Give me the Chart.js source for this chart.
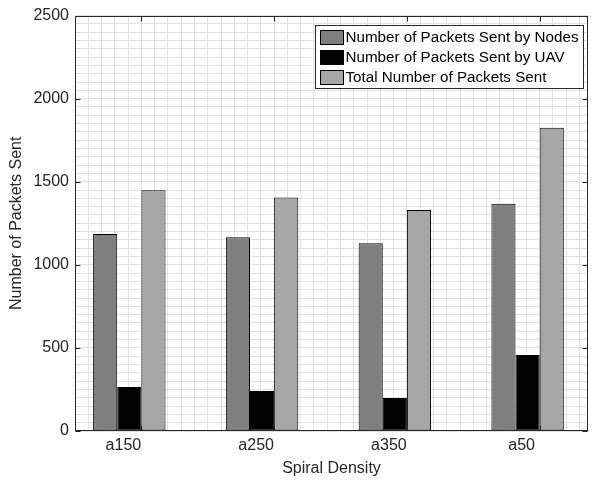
<!DOCTYPE html>
<html>
<head>
<meta charset="utf-8">
<script src="https://cdn.jsdelivr.net/npm/chart.js@4.4.1/dist/chart.umd.min.js"></script>
<style>
  html, body { margin: 0; padding: 0; background: #fff; }
  canvas { display: block; }
</style>
</head>
<body>
<canvas id="chart" width="603" height="480"></canvas>
<script>
// values
const categories = ['a150', 'a250', 'a350', 'a50'];
const nodesSent = [1186, 1166, 1130, 1367];
const uavSent = [265, 241, 199, 458];
const totalSent = [1449, 1405, 1330, 1825];
const fourthSeries = [3, 3, 3, 3]; // near-zero bars sitting on the baseline
const yTicks = [0, 500, 1000, 1500, 2000, 2500];
const seriesLabels = [
  'Number of Packets Sent by Nodes',
  'Number of Packets Sent by UAV',
  'Total Number of Packets Sent'
];

// x limits: half a slot on the left, flush with the last bar on the right
const X_MIN = -0.5, X_MAX = 3.364;

const FONT = '"Liberation Sans", Arial, Helvetica, sans-serif';
const AXIS_COLOR = '#262626';
const FS = 16;

const toPoints = arr => arr.map((v, i) => ({ x: i, y: v }));

// axes box + inward tick marks, matlab "box on"
const framePlugin = {
  id: 'frame',
  afterDraw(chart) {
    const { ctx, chartArea: a, scales } = chart;
    const l = Math.round(a.left) + 0.5, r = Math.round(a.right) - 0.5;
    const t = Math.round(a.top) + 0.5, b = Math.round(a.bottom) - 0.5;
    ctx.save();
    ctx.strokeStyle = AXIS_COLOR;
    ctx.lineWidth = 1;
    ctx.strokeRect(l, t, r - l, b - t);
    ctx.beginPath();
    scales.y.ticks.forEach(tk => {
      const py = Math.round(scales.y.getPixelForValue(tk.value)) + 0.5;
      ctx.moveTo(l, py); ctx.lineTo(l + 5, py);
      ctx.moveTo(r, py); ctx.lineTo(r - 5, py);
    });
    categories.forEach((c, i) => {
      const px = Math.round(scales.x.getPixelForValue(i)) + 0.5;
      ctx.moveTo(px, b); ctx.lineTo(px, b - 5);
      ctx.moveTo(px, t); ctx.lineTo(px, t + 5);
    });
    ctx.stroke();
    ctx.restore();
  }
};

// legend box inside the top-right corner of the axes
const insideLegend = {
  id: 'insideLegend',
  afterDraw(chart) {
    const { ctx, chartArea: a } = chart;
    const w = 268, h = 63, rowH = 20.4;
    const x0 = Math.round(a.right - 5 - w) + 0.5;
    const y0 = Math.round(a.top + 9) + 0.5;
    ctx.save();
    ctx.fillStyle = '#fff';
    ctx.fillRect(x0, y0, w, h);
    ctx.strokeStyle = AXIS_COLOR;
    ctx.lineWidth = 1;
    ctx.strokeRect(x0, y0, w, h);
    ctx.font = '15.2px ' + FONT;
    ctx.textBaseline = 'middle';
    seriesLabels.forEach((lab, i) => {
      const ds = chart.data.datasets[i];
      const cy = y0 + 11 + i * rowH;
      const sy = Math.round(cy - 7) + 0.5;
      ctx.fillStyle = ds.backgroundColor;
      ctx.fillRect(x0 + 5, sy, 23, 14);
      ctx.strokeStyle = '#000';
      ctx.strokeRect(x0 + 5, sy, 23, 14);
      ctx.fillStyle = '#000';
      ctx.fillText(lab, x0 + 30, cy + 1);
    });
    ctx.restore();
  }
};

const barStyle = { borderColor: '#000', borderWidth: 1, borderSkipped: false };

new Chart(document.getElementById('chart'), {
  type: 'bar',
  data: {
    datasets: [
      { label: seriesLabels[0], data: toPoints(nodesSent), backgroundColor: '#7f7f7f', ...barStyle },
      { label: seriesLabels[1], data: toPoints(uavSent), backgroundColor: '#000000', ...barStyle },
      { label: seriesLabels[2], data: toPoints(totalSent), backgroundColor: '#a6a6a6', ...barStyle },
      { label: '', data: toPoints(fourthSeries), backgroundColor: '#ffffff', ...barStyle }
    ]
  },
  options: {
    responsive: false,
    animation: false,
    devicePixelRatio: 1,
    layout: { padding: { top: 12, right: 15, left: 0, bottom: 0 } },
    datasets: { bar: { categoryPercentage: 0.7273, barPercentage: 1 } },
    plugins: { legend: { display: false }, tooltip: { enabled: false } },
    scales: {
      x: {
        type: 'linear', min: X_MIN, max: X_MAX, offset: false,
        afterFit: s => { s.height = 49; },
        afterBuildTicks: s => { s.ticks = categories.map((c, i) => ({ value: i })); },
        border: { display: false },
        grid: { color: '#e0e0e0', drawTicks: false, offset: false },
        ticks: {
          color: AXIS_COLOR, font: { family: FONT, size: FS }, padding: 5, labelOffset: -18,
          callback: v => categories[v]
        },
        title: {
          display: true, text: 'Spiral Density', color: AXIS_COLOR,
          font: { family: FONT, size: FS }, padding: { top: 0, bottom: 2 }
        }
      },
      xMinor: {
        type: 'linear', position: 'bottom', min: X_MIN, max: X_MAX, offset: false,
        afterFit: s => { s.height = 0; },
        afterBuildTicks: s => {
          const t = [];
          for (let k = 0; X_MIN + k * 0.1 < X_MAX; k++) t.push({ value: X_MIN + k * 0.1 });
          s.ticks = t;
        },
        border: { display: false },
        grid: { color: '#e2e2e2', borderDash: [1, 2], drawTicks: false, offset: false },
        ticks: { display: false }
      },
      y: {
        min: 0, max: 2500,
        afterFit: s => { s.width = 75; },
        afterBuildTicks: s => { s.ticks = yTicks.map(v => ({ value: v })); },
        border: { display: false },
        grid: { color: '#e0e0e0', drawTicks: false },
        ticks: {
          color: AXIS_COLOR, font: { family: FONT, size: FS }, padding: 6,
          callback: v => String(v)
        },
        title: {
          display: true, text: 'Number of Packets Sent', color: AXIS_COLOR,
          font: { family: FONT, size: FS }, padding: { top: 7, bottom: 0 }
        }
      },
      yMinor: {
        type: 'linear', position: 'left', min: 0, max: 2500,
        afterFit: s => { s.width = 0; },
        afterBuildTicks: s => {
          const t = [];
          for (let v = 0; v <= 2500; v += 50) t.push({ value: v });
          s.ticks = t;
        },
        border: { display: false },
        grid: { color: '#e2e2e2', borderDash: [1, 2], drawTicks: false },
        ticks: { display: false }
      }
    }
  },
  plugins: [framePlugin, insideLegend]
});
</script>
</body>
</html>
